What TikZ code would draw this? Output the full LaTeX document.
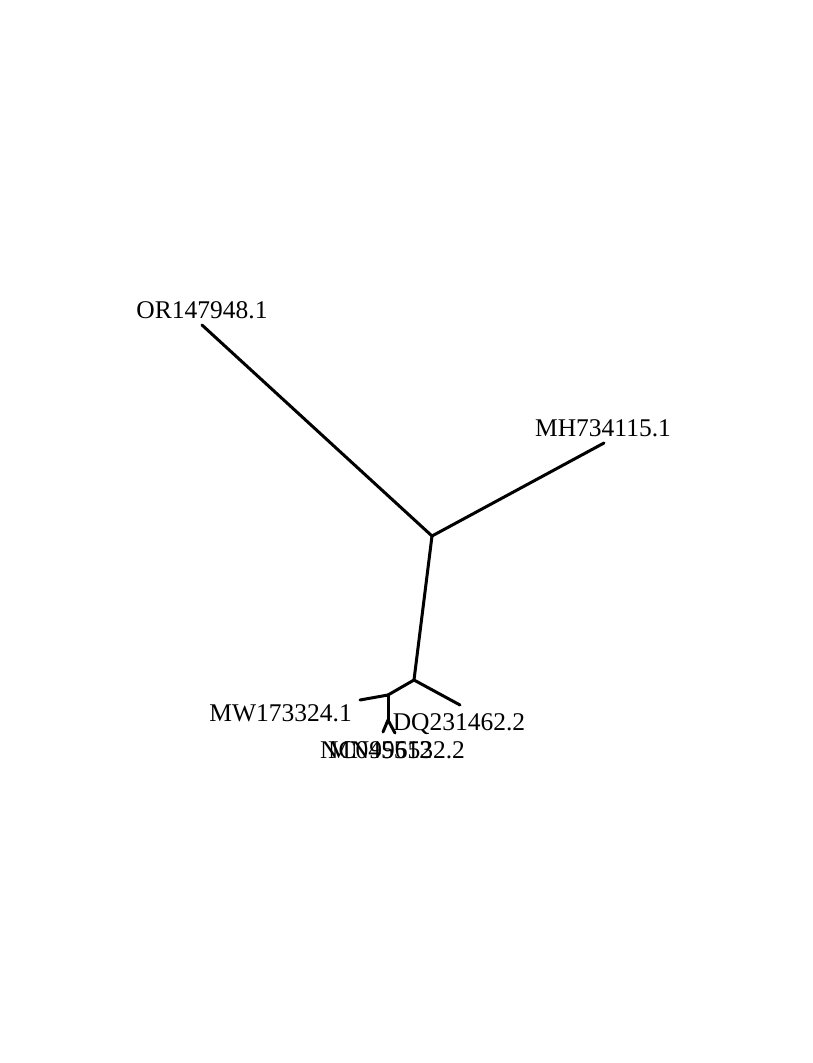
\documentclass[tikz,border=0pt]{standalone}
\usepackage{fontspec}
\setmainfont{Liberation Serif}
\begin{document}
\begin{tikzpicture}[x=1pt,y=-1pt,
  branch/.style={line width=3pt,line cap=round,line join=round},
  tiplabel/.style={font=\fontsize{25.5}{30}\selectfont,inner sep=0pt,anchor=base}]
\useasboundingbox (0,0) rectangle (813,1063);
% internal nodes
\coordinate (root) at (432,536);
\coordinate (n1) at (414,680);
\coordinate (n2) at (388,695);
\coordinate (n3) at (388,720);
% tips
\coordinate (tOR) at (202,325);
\coordinate (tMH) at (604,443);
\coordinate (tDQ) at (460,705);
\coordinate (tMW) at (360,700);
\coordinate (tNC) at (383,732);
\coordinate (tMN) at (395,733);
% branches
\draw[branch] (root) -- (tOR);
\draw[branch] (root) -- (tMH);
\draw[branch] (root) -- (n1);
\draw[branch] (n1) -- (tDQ);
\draw[branch] (n1) -- (n2);
\draw[branch] (n2) -- (tMW);
\draw[branch] (n2) -- (n3);
\draw[branch] (n3) -- (tNC);
\draw[branch] (n3) -- (tMN);
% labels
\node[tiplabel] (lOR) at (202,318) {OR147948.1};
\node[tiplabel] (lMH) at (603,436) {MH734115.1};
\node[tiplabel] (lDQ) at (459,730) {DQ231462.2};
\node[tiplabel,anchor=base east] (lMW) at (352,721) {MW173324.1};
\node[tiplabel,anchor=base west] (lNC) at (320,758) {NC045512};
\node[tiplabel,anchor=base west] (lMN) at (328,758) {MN996532.2};
\end{tikzpicture}
\end{document}
